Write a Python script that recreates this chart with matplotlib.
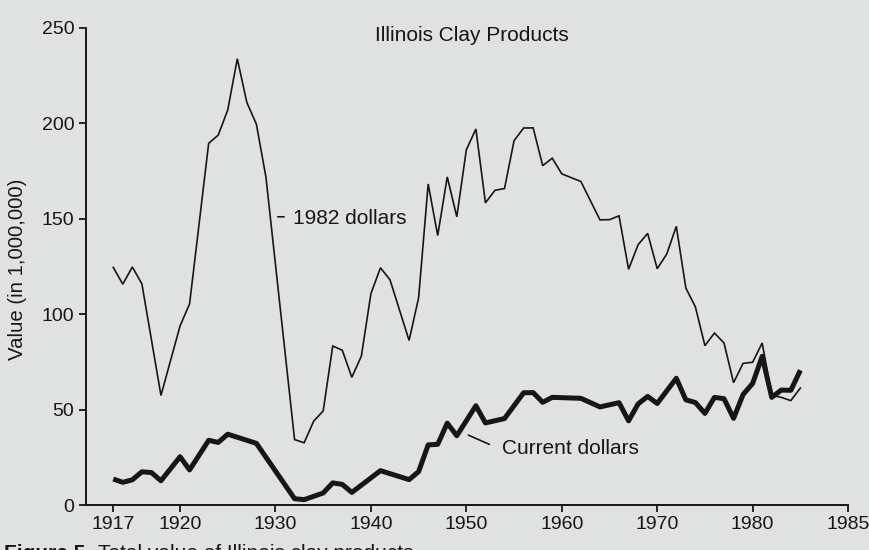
import matplotlib
matplotlib.use('Agg')
import matplotlib.pyplot as plt

plt.rcParams['font.family'] = ['Liberation Sans', 'DejaVu Sans']

# value of clay products in constant 1982 dollars (millions)
years_1982 = [1913, 1914, 1915, 1916, 1918, 1920, 1921, 1923, 1924, 1925,
              1926, 1927, 1928, 1929, 1932, 1933, 1934, 1935, 1936, 1937,
              1938, 1939, 1940, 1941, 1942, 1944, 1945, 1946, 1947, 1948,
              1949, 1950, 1951, 1952, 1953, 1954, 1955, 1956, 1957, 1958,
              1959, 1960, 1962, 1964, 1965, 1966, 1967, 1968, 1969, 1970,
              1971, 1972, 1973, 1974, 1975, 1976, 1977, 1978, 1979, 1980,
              1981, 1982, 1983, 1984, 1985]
value_1982 = [124.5, 115.7, 124.7, 115.9, 57.4, 93.8, 105.4, 189.5, 193.8, 207.0,
              233.8, 210.9, 199.5, 171.8, 34.3, 32.6, 43.9, 49.3, 83.3, 81.1,
              66.9, 78.0, 110.7, 124.3, 118.0, 86.2, 108.6, 168.2, 141.2, 171.9,
              151.0, 186.1, 197.0, 158.3, 164.9, 165.8, 190.9, 197.5, 197.6, 177.8,
              181.7, 173.5, 169.5, 149.4, 149.5, 151.5, 123.5, 136.4, 142.3, 123.8,
              131.5, 146.0, 113.7, 103.8, 83.5, 90.1, 84.9, 64.1, 74.2, 74.8,
              84.9, 57.5, 56.4, 54.7, 61.3]

# value in current dollars (millions)
years_current = [1913, 1914, 1915, 1916, 1917, 1918, 1920, 1921, 1923, 1924,
                 1925, 1928, 1932, 1933, 1935, 1936, 1937, 1938, 1941, 1944,
                 1945, 1946, 1947, 1948, 1949, 1951, 1952, 1954, 1956, 1957,
                 1958, 1959, 1962, 1964, 1966, 1967, 1968, 1969, 1970, 1972,
                 1973, 1974, 1975, 1976, 1977, 1978, 1979, 1980, 1981, 1982,
                 1983, 1984, 1985]
value_current = [13.6, 11.9, 13.2, 17.4, 17.0, 12.7, 25.3, 18.4, 33.9, 32.8,
                 37.1, 32.3, 3.3, 2.8, 6.3, 11.6, 10.8, 6.6, 18.0, 13.3,
                 17.5, 31.5, 31.8, 42.9, 36.3, 52.0, 43.0, 45.3, 58.8, 58.9,
                 53.8, 56.4, 55.9, 51.4, 53.6, 44.1, 53.0, 56.9, 53.2, 66.4,
                 55.1, 53.7, 48.0, 56.4, 55.7, 45.4, 57.9, 63.7, 77.9, 56.4,
                 60.2, 60.1, 70.6]

x_ticks = [1913, 1920, 1930, 1940, 1950, 1960, 1970, 1980, 1990]
x_tick_labels = ['1917', '1920', '1930', '1940', '1950', '1960', '1970', '1980', '1985']
y_ticks = [0, 50, 100, 150, 200, 250]

bg = '#dfe2e0'
ink = '#161616'

fig = plt.figure(figsize=(8.7, 5.5), dpi=100, facecolor=bg)
ax = fig.add_axes([0.0989, 0.0818, 0.8759, 0.8676])
ax.set_facecolor(bg)

ax.plot(years_1982, value_1982, color=ink, lw=1.2,
        solid_joinstyle='miter', clip_on=False)
ax.plot(years_current, value_current, color=ink, lw=3.6,
        solid_joinstyle='round', solid_capstyle='butt', clip_on=False)

ax.set_xlim(1910.15, 1990)
ax.set_ylim(0, 250)

for side in ['top', 'right']:
    ax.spines[side].set_visible(False)
for side in ['left', 'bottom']:
    ax.spines[side].set_linewidth(1.4)
    ax.spines[side].set_color(ink)

ax.set_xticks(x_ticks, x_tick_labels)
ax.set_yticks(y_ticks)
ax.tick_params(axis='both', direction='out', length=5, width=1.3,
               colors=ink, labelsize=14)
ax.tick_params(axis='x', pad=3)
ax.tick_params(axis='y', pad=3.5)

ax.set_ylabel('Value (in 1,000,000)', fontsize=14.7, color=ink)
ax.yaxis.label.set_va('center')
ax.yaxis.set_label_coords(-0.0905, 0.4937)

# series labels with short leader lines
ax.annotate('', xy=(1929.95, 151), xytext=(1931.2, 151),
            arrowprops=dict(arrowstyle='-', lw=1.2, color=ink))
ax.text(1931.85, 150.1, '1982 dollars', ha='left', va='center',
        fontsize=15, color=ink)
ax.annotate('', xy=(1949.94, 37.2), xytext=(1952.68, 31.2),
            arrowprops=dict(arrowstyle='-', lw=1.2, color=ink))
ax.text(1953.74, 29.7, 'Current dollars', ha='left', va='center',
        fontsize=15, color=ink)

fig.text(0.5425, 0.9255, 'Illinois Clay Products', ha='center', va='baseline',
         fontsize=15, color=ink)

# caption running off the bottom edge of the page
fig.text(0.0046, -0.0164, 'Figure 5.', ha='left', va='baseline',
         fontsize=15, fontweight='bold', color=ink)
fig.text(0.1126, -0.0164, 'Total value of Illinois clay products', ha='left',
         va='baseline', fontsize=15, color=ink)

fig.savefig('out.png', dpi=100, facecolor=bg)
